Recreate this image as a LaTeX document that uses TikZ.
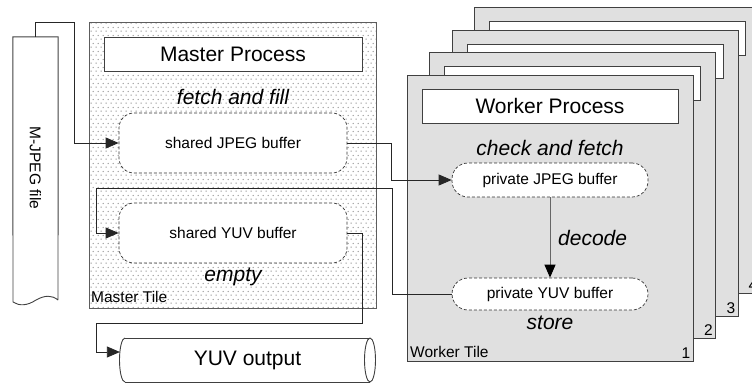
\documentclass[tikz,border=0pt]{standalone}
\usepackage{fontspec}
\setmainfont{Liberation Sans}
\usetikzlibrary{arrows.meta,patterns.meta,calc}
\tikzdeclarepattern{
  name=mdots, type=uncolored,
  bounding box={(0pt,0pt) and (5pt,8pt)},
  tile size={(5pt,8pt)},
  code={\fill (1.25pt,1pt) circle (0.75pt); \fill (3.75pt,5pt) circle (0.75pt);}
}
\definecolor{tilegray}{HTML}{E0E0E0}
\definecolor{edge}{HTML}{404040}
\begin{document}
\begin{tikzpicture}[x=1pt,y=-1pt,
  bigtxt/.style={font=\fontsize{21}{25}\selectfont},
  smalltxt/.style={font=\fontsize{15.5}{18}\selectfont},
  itxt/.style={font=\fontsize{21}{25}\selectfont\itshape, inner sep=1pt},
  tilebox/.style={draw=edge, fill=tilegray, minimum width=286, minimum height=286, inner sep=0, line width=0.9pt},
  procbox/.style={draw=edge, fill=white, minimum width=256, minimum height=34, inner sep=0, line width=0.9pt},
  sbuf/.style={draw=black!80, dash pattern=on 3pt off 2pt, fill=white, rounded corners=15, minimum width=228, minimum height=60, inner sep=0, line width=0.7pt},
  pbuf/.style={draw=black!80, dash pattern=on 3pt off 2pt, fill=white, rounded corners=16, minimum width=196, minimum height=34, inner sep=0, line width=0.7pt},
  conn/.style={draw=black!85, line width=0.75pt},
  arr/.style={-{Triangle[length=13pt,width=11pt]}},
  numlbl/.style={font=\fontsize{15.5}{18}\selectfont, anchor=south east, inner sep=3pt}
]
\useasboundingbox (0,0) rectangle (752,383);
\clip (0,0) rectangle (752,383);

% Worker tiles (back to front)
\foreach \i/\cx/\cy in {4/617/150, 3/595/173, 2/572.5/195.5} {
  \node[tilebox] (tile\i) at (\cx,\cy) {};
  \node[procbox] (wp\i) at (\cx,\cy-112) {};
  \node[numlbl] (num\i) at (tile\i.south east) {\i};
}
\node[tilebox] (tile1) at (550,218) {};
\node[procbox, bigtxt] (wp1) at (550,106) {Worker Process};
\node[numlbl] (num1) at (tile1.south east) {1};
\node[smalltxt, anchor=base west, inner sep=0] (wt) at (410,357) {Worker Tile};

\node[itxt] (cf) at (550,148) {check and fetch};
\node[pbuf, smalltxt] (pj) at (550,180) {private JPEG buffer};
\node[pbuf, smalltxt, minimum height=32] (py) at (550,294) {private YUV buffer};
\node[itxt, anchor=west] (dec) at (557,238) {decode};
\node[itxt] (st) at (550,323) {store};
\draw[draw=black!60, line width=1pt, -{Triangle[length=13pt,width=11pt,color=black]}] (pj) -- (py);

% Master tile
\node[draw=edge!85, line width=0.9pt, preaction={fill=white}, pattern=mdots, pattern color=black!50, minimum width=287, minimum height=286, inner sep=0] (master) at (232.5,165) {};
\node[procbox, bigtxt, minimum width=258] (mp) at (233,54) {Master Process};
\node[itxt] (ff) at (233,97) {fetch and fill};
\node[sbuf, smalltxt] (sj) at (233,143) {shared JPEG buffer};
\node[sbuf, smalltxt] (sy) at (233,233) {shared YUV buffer};
\node[itxt] (em) at (233,277) {empty};
\node[smalltxt, anchor=base west, inner sep=0] (mt) at (91,302) {Master Tile};

% M-JPEG file
\node[minimum width=45, minimum height=266, inner sep=0] (file) at (35.5,170) {};
\node[smalltxt, rotate=-90] (filelbl) at (35.5,168) {M-JPEG file};
\draw[draw=edge, line width=0.9pt] (58,300) -- (file.north east) -- (file.north west) -- (13,302)
  .. controls (19,306) and (27,306) .. (36,300)
  .. controls (45,295) and (52,295) .. (58,300);

% YUV output cylinder
\node[bigtxt, minimum width=250, minimum height=44, inner sep=0] (yo) at (247.5,360) {YUV output};
\draw[draw=edge, line width=0.9pt] (125,338) -- (370,338) (125,382) -- (370,382);
\draw[draw=edge, line width=0.9pt] (370,360) ellipse [x radius=5.5, y radius=22];
\draw[draw=edge, line width=0.9pt] (125,338) arc[start angle=-90, end angle=-270, x radius=5.5, y radius=22];
\coordinate (yoin) at (119.9,352);

% connectors
\coordinate (c1) at (74,22);
\draw[conn, arr] (file.north) |- (c1) |- (sj.west);
\draw[conn, arr] (sj.east) -| ([xshift=-60pt]pj.west) -- (pj.west);
\coordinate (c3) at (392,188);
\coordinate (c4) at (96,188);
\draw[conn, arr] (py.west) -| (c3) -- (c4) |- (sy.west);
\coordinate (c5) at (362,323);
\coordinate (c6) at (96,323);
\draw[conn, arr] (sy.east) -| (c5) -- (c6) |- (yoin);
\end{tikzpicture}
\end{document}
